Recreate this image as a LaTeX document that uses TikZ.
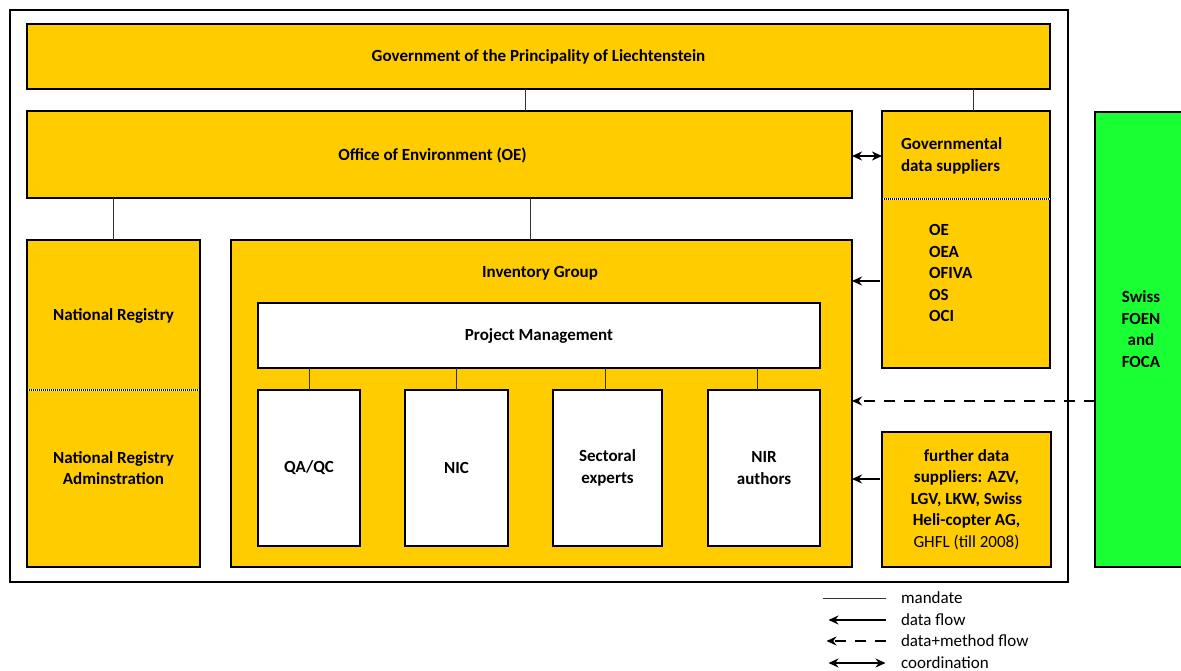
\documentclass[tikz,border=0pt]{standalone}
\usepackage{fontspec}
\setmainfont{Carlito}
\usepackage{tikz}
\usetikzlibrary{arrows.meta}
\definecolor{gold}{RGB}{255,204,0}
\definecolor{foengreen}{RGB}{26,255,51}

\begin{document}
\begin{tikzpicture}[x = 1pt, y = -1pt, font = \fontsize{17}{21.5}\selectfont\bfseries,
            >={Stealth[length=10pt, width=9pt]},
            box/.style = {draw, line width = 1.5pt, fill = gold, inner sep = 0pt, outer sep = 0pt, align = center},
            wbox/.style = {box, fill = white},
            mandate/.style = {line width = 0.9pt, black!80},
            flow/.style = {line width = 2.4pt},
            legend/.style = {font = \fontsize{17}{21.5}\selectfont\mdseries, anchor = west}]
            \useasboundingbox (0,0) rectangle (1181,671);

            \draw [line width = 2pt] (10,10) rectangle (1068,582);

            \node [box, minimum width = 1023pt, minimum height = 65pt] (gov) at (538.5,56.5)
            {Government of the Principality of Liechtenstein};
            \node [box, minimum width = 825pt, minimum height = 87pt] (oe) at (439.5,154.5) {};
            \node [box, minimum width = 168pt, minimum height = 257pt] (gds) at (966,239.5) {};
            \node [box, minimum width = 173pt, minimum height = 327pt] (natreg) at (113.5,403.5) {};
            \node [box, minimum width = 621pt, minimum height = 327pt] (inv) at (541.5,403.5) {};
            \node [box, minimum width = 169pt, minimum height = 135pt] (fds) at (966.5,499.5)
            {further data\\suppliers: AZV,\\LGV, LKW, Swiss\\Heli-copter AG,\\\mdseries GHFL (till 2008)};
            \node [box, fill = foengreen, minimum width = 95pt, minimum height = 455pt] (foen) at (1142.5,339.5) {};

            \node [wbox, minimum width = 562pt, minimum height = 65pt] (pm) at (539,335.5) {Project Management};
            \node [wbox, minimum width = 102pt, minimum height = 156pt] (qaqc) at (309,468) {QA/QC};
            \node [wbox, minimum width = 103pt, minimum height = 156pt] (nic) at (456.5,468) {NIC};
            \node [wbox, minimum width = 109pt, minimum height = 156pt] (sect) at (607.5,468) {Sectoral\\experts};
            \node [wbox, minimum width = 112pt, minimum height = 156pt] (nir) at (764,468) {NIR\\authors};

            \node (oehead) at (432.5,155) {Office of Environment (OE)};
            \node [align = left, anchor = west] (gdshead) at (897.5,156) {Governmental\\data suppliers};
            \node [align = left, anchor = west] (gdslist) at (925.5,273) {OE\\OEA\\OFIVA\\OS\\OCI};
            \node (natreghead) at (113.5,316) {National Registry};
            \node [align = center] (natregadm) at (113.5,468) {National Registry\\Adminstration};
            \node (invhead) at (540,273) {Inventory Group};
            \node [align = center] (foenlabel) at (1141,329) {Swiss\\FOEN\\and\\FOCA};

            \draw [white, line width = 2pt] (gds.west |- 0,199) -- (gds.east |- 0,199);
            \draw [line width = 2pt, dash pattern = on 1pt off 1pt] (gds.west |- 0,199) -- (gds.east |- 0,199);
            \draw [white, line width = 2pt] (natreg.west |- 0,390) -- (natreg.east |- 0,390);
            \draw [line width = 2pt, dash pattern = on 1pt off 1pt] (natreg.west |- 0,390) -- (natreg.east |- 0,390);

            \draw [mandate] ([xshift = -13.5pt]gov.south) -- ([xshift = -13.5pt]gov.south |- oe.north);
            \draw [mandate] ([xshift = 7pt]gds.north) -- ([xshift = 7pt]gds.north |- gov.south);
            \draw [mandate] (natreg.north) -- (natreg.north |- oe.south);
            \draw [mandate] ([xshift = -11.5pt]inv.north) -- ([xshift = -11.5pt]inv.north |- oe.south);
            \draw [mandate] (qaqc.north) -- (qaqc.north |- pm.south);
            \draw [mandate] (nic.north) -- (nic.north |- pm.south);
            \draw [mandate] ([xshift = -2.5pt]sect.north) -- ([xshift = -2.5pt]sect.north |- pm.south);
            \draw [mandate] ([xshift = -7pt]nir.north) -- ([xshift = -7pt]nir.north |- pm.south);

            \draw [flow, <->] (oe.east |- gdshead) -- (gds.west |- gdshead);
            \draw [flow, ->] ([xshift = -2pt, yshift = -41.5pt]gds.west) -- ([yshift = -41.5pt]gds.west -| inv.east);
            \draw [flow, ->, dash pattern = on 11pt off 9pt] (foen.west |- 0,401) -- (inv.east |- 0,401);
            \draw [flow, ->] ([xshift = -2pt, yshift = 20.5pt]fds.west) -- ([yshift = 20.5pt]fds.west -| inv.east);

            \node [legend] (lmandate) at (897.5,598) {mandate};
            \node [legend] (ldata) at (897.5,620) {data flow};
            \node [legend] (lmethod) at (897.5,641) {data+method flow};
            \node [legend] (lcoord) at (897.5,663) {coordination};
            \draw [mandate] ([xshift = -12pt]lmandate.west) -- ([xshift = -75pt]lmandate.west);
            \draw [flow, ->] ([xshift = -12pt]ldata.west) -- ([xshift = -69pt]ldata.west);
            \draw [flow, ->, dash pattern = on 11pt off 9pt] ([xshift = -12pt]lmethod.west) -- ([xshift = -71pt]lmethod.west);
            \draw [flow, <->] ([xshift = -12pt]lcoord.west) -- ([xshift = -69pt]lcoord.west);
        \end{tikzpicture}
\end{document}
